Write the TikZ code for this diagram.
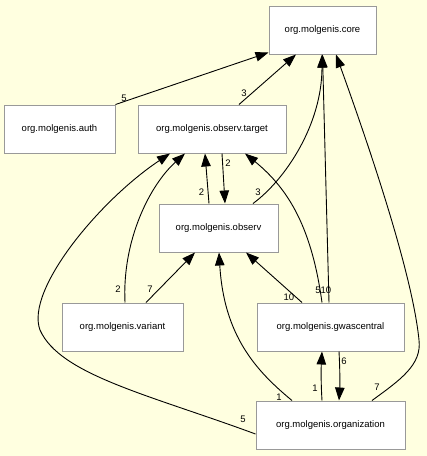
\documentclass[tikz,border=0pt]{standalone}
\usepackage{fontspec}
\setmainfont{Liberation Sans}
\usetikzlibrary{arrows.meta}
\definecolor{bg}{HTML}{FFFFE0}
\definecolor{boxline}{HTML}{999999}
\tikzset{
  pkg/.style={draw=boxline, fill=white, line width=1pt, inner sep=0pt,
    minimum height=48pt, font=\fontsize{9.5}{11}\selectfont},
  dep/.style={line width=0.9pt, -{Triangle[length=13pt,width=9.5pt]}},
  lbl/.style={font=\fontsize{9.5}{11}\selectfont, inner sep=0pt}
}
\begin{document}
\begin{tikzpicture}[x=1pt,y=-1pt]
\fill[bg] (0,0) rectangle (427,456);
\useasboundingbox (0,0) rectangle (427,456);

\node[pkg, minimum width=107pt] (core) at (322.5,30) {org.molgenis.core};
\node[pkg, minimum width=111pt] (auth) at (59.5,129) {org.molgenis.auth};
\node[pkg, minimum width=148pt] (target) at (212,129) {org.molgenis.observ.target};
\node[pkg, minimum width=119pt] (observ) at (218.5,228) {org.molgenis.observ};
\node[pkg, minimum width=121pt] (variant) at (122.5,327) {org.molgenis.variant};
\node[pkg, minimum width=147pt] (gwas) at (330.5,327) {org.molgenis.gwascentral};
\node[pkg, minimum width=149pt] (org) at (330.5,425) {org.molgenis.organization};

% auth -> core
\draw[dep] (auth.north east) -- ([yshift=2pt]core.south west);
\node[lbl] (l1) at (124,98) {5};
% target -> core
\draw[dep] ([xshift=27pt]target.north) -- ([xshift=-26.5pt]core.south);
\node[lbl] (l2) at (244,93) {3};
% observ -> core
\draw[dep] ([xshift=34.5pt]observ.north) .. controls (285,180) and (322,125) .. ([xshift=-0.5pt]core.south);
\node[lbl] (l3) at (258,192) {3};
% gwas -> core
\draw[dep] ([xshift=-1.5pt]gwas.north) -- ([xshift=0pt]core.south);
\node[lbl] (l4) at (326,290) {10};
% org -> core
\draw[dep] ([xshift=41.5pt]org.north) .. controls (400,380) and (422,365) .. (419,340)
  .. controls (412,270) and (365,135) .. ([xshift=13.5pt]core.south);
\node[lbl] (l5) at (377,387) {7};
% target -> observ
\draw[dep] ([xshift=10pt]target.south) -- ([xshift=6.5pt]observ.north);
\node[lbl] (l6) at (228,163) {2};
% observ -> target
\draw[dep] ([xshift=-9.5pt]observ.north) -- ([xshift=-7pt]target.south);
\node[lbl] (l7) at (201.5,192) {2};
% variant -> target
\draw[dep] ([xshift=2.5pt]variant.north) .. controls (122,240) and (150,185) .. ([xshift=-27pt]target.south);
\node[lbl] (l8) at (118,289) {2};
% org -> target
\draw[dep] ([yshift=-9pt]org.west) .. controls (150,395) and (60,375) .. (40,330)
  .. controls (25,290) and (100,200) .. ([xshift=-42pt]target.south);
\node[lbl] (l9) at (243,419) {5};
% variant -> observ
\draw[dep] ([xshift=23.5pt]variant.north) -- ([xshift=-23.5pt]observ.south);
\node[lbl] (l10) at (150,289) {7};
% gwas -> observ
\draw[dep] ([xshift=-28.5pt]gwas.north) -- ([xshift=27.5pt]observ.south);
\node[lbl] (l11) at (289,297) {10};
% org -> observ
\draw[dep] ([xshift=-38.5pt]org.north) .. controls (255,370) and (224,335) .. ([xshift=0.5pt]observ.south);
\node[lbl] (l12) at (279,397) {1};
% org -> gwas
\draw[dep] ([xshift=-8.5pt]org.north) .. controls (321,385) and (321,370) .. ([xshift=-8.5pt]gwas.south);
\node[lbl] (l13) at (315,388) {1};
% gwas -> org
\draw[dep] ([xshift=8.5pt]gwas.south) .. controls (340,370) and (340,385) .. ([xshift=8.5pt]org.north);
\node[lbl] (l14) at (344,361) {6};
% gwas -> target
\draw[dep] ([xshift=-8.5pt]gwas.north) .. controls (312,230) and (290,190) .. ([xshift=33pt]target.south);
\node[lbl] (l15) at (318,290) {5};
\end{tikzpicture}
\end{document}
